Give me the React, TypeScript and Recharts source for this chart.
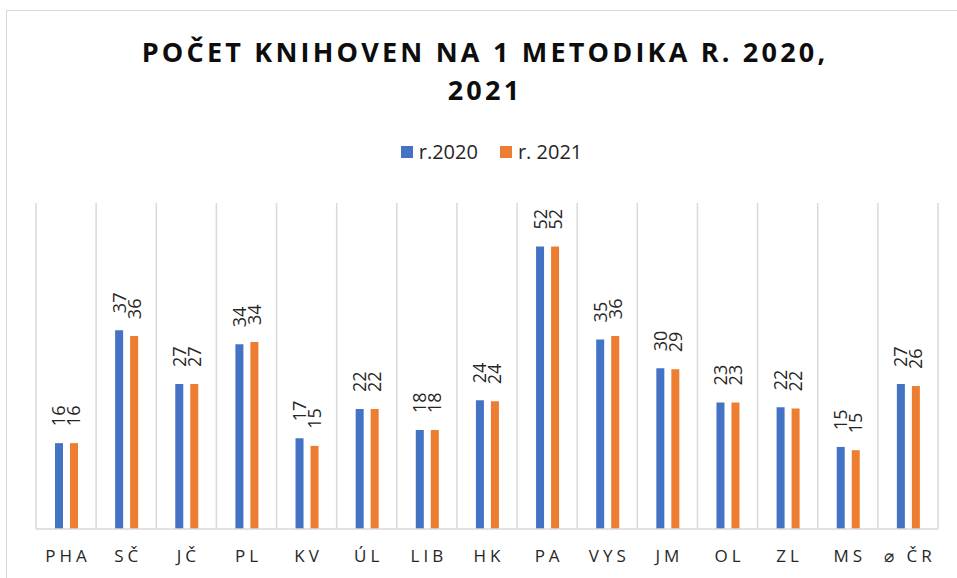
import { Bar, BarChart, CartesianGrid, LabelList, XAxis, YAxis } from "recharts";

const regions = ["PHA", "SČ", "JČ", "PL", "KV", "ÚL", "LIB", "HK", "PA", "VYS", "JM", "OL", "ZL", "MS", "⌀ ČR"];
const values2020 = [15.8, 36.6, 26.7, 34.0, 16.7, 22.1, 18.2, 23.7, 52.0, 34.9, 29.6, 23.3, 22.4, 15.1, 26.7];
const values2021 = [15.8, 35.5, 26.7, 34.4, 15.3, 22.1, 18.2, 23.5, 52.0, 35.5, 29.4, 23.3, 22.2, 14.5, 26.3];
const seriesNames = ["r.2020", "r. 2021"];
const titleLines = ["POČET KNIHOVEN NA 1 METODIKA R. 2020,", "2021"];

const data = regions.map((name, i) => ({ name, y2020: values2020[i], y2021: values2021[i] }));

const FONT = "'Open Sans', sans-serif";
const BLUE = "#4472c4";
const ORANGE = "#ed7d31";
const GRID = "#d9d9d9";

function BarValue(props: any) {
  const { x, y, width, value } = props;
  const cx = x + width / 2;
  const ty = y - 17;
  return (
    <text
      x={cx}
      y={ty}
      dy="0.36em"
      transform={`rotate(-90, ${cx}, ${ty})`}
      textAnchor="start"
      fontFamily={FONT}
      fontSize={18}
      fill="#262626"
    >
      {Math.round(value)}
    </text>
  );
}

function RegionTick(props: any) {
  const { x, y, payload } = props;
  return (
    <text x={x + 2} y={y + 25} textAnchor="middle" fontFamily={FONT} fontSize={17} letterSpacing={4} fill="#262626">
      {payload.value}
    </text>
  );
}

// legend drawn outside the chart so it doesn't eat into the plot area
function LegendBox() {
  const colors = [BLUE, ORANGE];
  return (
    <div
      style={{
        position: "absolute",
        top: 138,
        left: 0,
        width: 957,
        display: "flex",
        justifyContent: "center",
        paddingLeft: 26,
        boxSizing: "border-box",
        gap: 22,
        fontFamily: FONT,
        fontSize: 20,
        color: "#262626",
      }}
    >
      {seriesNames.map((label, i) => (
        <div key={label} style={{ display: "flex", alignItems: "center" }}>
          <span style={{ width: 12, height: 12, background: colors[i], marginRight: 6, display: "inline-block" }} />
          <span>{label}</span>
        </div>
      ))}
    </div>
  );
}

export default function App() {
  return (
    <div style={{ position: "absolute", left: 0, top: 0, width: 957, height: 578, overflow: "hidden", background: "#fff" }}>
      <div style={{ position: "absolute", left: 6, top: 10, width: 1000, height: 700, border: `1.5px solid ${GRID}`, boxSizing: "border-box" }} />
      <svg width={957} height={120} style={{ position: "absolute", left: 0, top: 0, pointerEvents: "none" }}>
        {titleLines.map((line, i) => (
          <text
            key={line}
            x={485}
            y={62 + i * 38}
            textAnchor="middle"
            fontFamily={FONT}
            fontWeight="bold"
            fontSize={27}
            letterSpacing={3.2}
            fill="#0d0d0d"
          >
            {line}
          </text>
        ))}
      </svg>
      <LegendBox />
      <div style={{ position: "absolute", left: 0, top: 0 }}>
        <BarChart width={957} height={578} data={data} margin={{ top: 203, left: 36, right: 19, bottom: 19 }} barSize={8} barGap={7}>
          <CartesianGrid
            horizontal={false}
            stroke={GRID}
            strokeWidth={1.5}
            verticalCoordinatesGenerator={({ offset }: any) =>
              regions.map((_, i) => offset.left + (i * offset.width) / regions.length).concat(offset.left + offset.width)
            }
          />
          <XAxis dataKey="name" height={30} tickLine={false} axisLine={{ stroke: GRID, strokeWidth: 1.5 }} tick={<RegionTick />} interval={0} />
          <YAxis hide domain={[0, 60]} />
          <Bar dataKey="y2020" name={seriesNames[0]} fill={BLUE} isAnimationActive={false}>
            <LabelList dataKey="y2020" content={<BarValue />} />
          </Bar>
          <Bar dataKey="y2021" name={seriesNames[1]} fill={ORANGE} isAnimationActive={false}>
            <LabelList dataKey="y2021" content={<BarValue />} />
          </Bar>
        </BarChart>
      </div>
    </div>
  );
}
